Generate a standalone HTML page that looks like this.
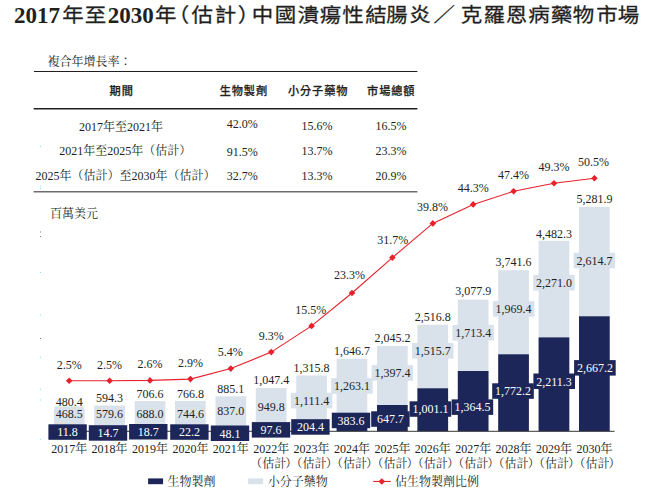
<!DOCTYPE html>
<html lang="zh-Hant">
<head>
<meta charset="utf-8">
<title>2017年至2030年（估計）中國潰瘍性結腸炎／克羅恩病藥物市場</title>
<style>
html,body{margin:0;padding:0;background:#fff;}
body{width:645px;height:495px;overflow:hidden;}
svg{display:block;}
text{white-space:pre;}
</style>
</head>
<body>
<svg width="645" height="495" viewBox="0 0 645 495">
<rect width="645" height="495" fill="#ffffff"/>
<text x="14.0" y="23.3" font-family="'Liberation Serif','Noto Serif CJK TC','Noto Serif CJK SC',serif" font-weight="bold" font-size="23" fill="#231f20">2017</text>
<text x="107.7" y="23.3" font-family="'Liberation Serif','Noto Serif CJK TC','Noto Serif CJK SC',serif" font-weight="bold" font-size="23" fill="#231f20">2030</text>
<g transform="translate(0,21.65) scale(1,0.92)" stroke="#231f20" stroke-width="0.3" font-family="'Liberation Sans','Noto Sans CJK TC','Noto Sans CJK SC',sans-serif" font-weight="400" font-size="21.5" fill="#231f20">
<text x="73.0 95.5" y="0" text-anchor="middle">年至</text>
<text x="165.7 178.5 202.2 225.5 248.5 262.5 285.4 308.2 330.5 352.9 375.9 396.9 420.0 444.2 471.5 494.2 516.6 539.0 561.5 583.6 607.0 628.4" y="0" text-anchor="middle">年（估計）中國潰瘍性結腸炎／克羅恩病藥物市場</text>
</g>
<text x="47.6" y="65.6" font-family="'Liberation Serif','Noto Serif CJK TC','Noto Serif CJK SC',serif" font-size="12" fill="#231f20">複合年增長率：</text>
<rect x="33.9" y="71" width="383.5" height="1" fill="#231f20"/>
<rect x="33.7" y="108" width="383.7" height="1.5" fill="#231f20"/>
<rect x="33.6" y="191.2" width="383.8" height="1.2" fill="#4a4a4a"/>
<text x="109.6" y="95.3" font-family="'Liberation Sans','Noto Sans CJK TC','Noto Sans CJK SC',sans-serif" font-weight="500" stroke="#231f20" stroke-width="0.25" font-size="11.2" letter-spacing="0.9" fill="#231f20">期間</text>
<text x="219.7" y="95.3" font-family="'Liberation Sans','Noto Sans CJK TC','Noto Sans CJK SC',sans-serif" font-weight="500" stroke="#231f20" stroke-width="0.25" font-size="11.2" letter-spacing="0.9" fill="#231f20">生物製劑</text>
<text x="287.9" y="95.3" font-family="'Liberation Sans','Noto Sans CJK TC','Noto Sans CJK SC',sans-serif" font-weight="500" stroke="#231f20" stroke-width="0.25" font-size="11.2" letter-spacing="0.9" fill="#231f20">小分子藥物</text>
<text x="367.1" y="95.3" font-family="'Liberation Sans','Noto Sans CJK TC','Noto Sans CJK SC',sans-serif" font-weight="500" stroke="#231f20" stroke-width="0.25" font-size="11.2" letter-spacing="0.9" fill="#231f20">市場總額</text>
<text x="79.0" y="131.1" text-anchor="start" font-family="'Liberation Serif','Noto Serif CJK TC','Noto Serif CJK SC',serif" font-size="12" fill="#231f20">2017年至2021年</text>
<text x="59.2" y="155.4" text-anchor="start" font-family="'Liberation Serif','Noto Serif CJK TC','Noto Serif CJK SC',serif" font-size="12" fill="#231f20">2021年至2025年（估計）</text>
<text x="35.4" y="180.2" text-anchor="start" font-family="'Liberation Serif','Noto Serif CJK TC','Noto Serif CJK SC',serif" font-size="12" fill="#231f20">2025年（估計）至2030年（估計）</text>
<text x="226.8" y="127.9" text-anchor="start" font-family="'Liberation Serif','Noto Serif CJK TC','Noto Serif CJK SC',serif" font-size="12" fill="#231f20">42.0%</text>
<text x="301.6" y="129.9" text-anchor="start" font-family="'Liberation Serif','Noto Serif CJK TC','Noto Serif CJK SC',serif" font-size="12" fill="#231f20">15.6%</text>
<text x="375.5" y="129.9" text-anchor="start" font-family="'Liberation Serif','Noto Serif CJK TC','Noto Serif CJK SC',serif" font-size="12" fill="#231f20">16.5%</text>
<text x="226.8" y="156.0" text-anchor="start" font-family="'Liberation Serif','Noto Serif CJK TC','Noto Serif CJK SC',serif" font-size="12" fill="#231f20">91.5%</text>
<text x="301.6" y="154.7" text-anchor="start" font-family="'Liberation Serif','Noto Serif CJK TC','Noto Serif CJK SC',serif" font-size="12" fill="#231f20">13.7%</text>
<text x="375.5" y="154.7" text-anchor="start" font-family="'Liberation Serif','Noto Serif CJK TC','Noto Serif CJK SC',serif" font-size="12" fill="#231f20">23.3%</text>
<text x="226.8" y="179.6" text-anchor="start" font-family="'Liberation Serif','Noto Serif CJK TC','Noto Serif CJK SC',serif" font-size="12" fill="#231f20">32.7%</text>
<text x="301.6" y="179.5" text-anchor="start" font-family="'Liberation Serif','Noto Serif CJK TC','Noto Serif CJK SC',serif" font-size="12" fill="#231f20">13.3%</text>
<text x="375.5" y="179.6" text-anchor="start" font-family="'Liberation Serif','Noto Serif CJK TC','Noto Serif CJK SC',serif" font-size="12" fill="#231f20">20.9%</text>
<text x="50.0" y="218.0" text-anchor="start" font-family="'Liberation Serif','Noto Serif CJK TC','Noto Serif CJK SC',serif" font-size="12" fill="#231f20">百萬美元</text>
<rect x="53.9" y="409.0" width="30.7" height="22.3" fill="#d9e1eb"/>
<rect x="53.9" y="430.8" width="30.7" height="0.5" fill="#1d2659"/>
<rect x="94.2" y="405.6" width="30.7" height="25.7" fill="#d9e1eb"/>
<rect x="94.2" y="430.7" width="30.7" height="0.6" fill="#1d2659"/>
<rect x="134.7" y="401.1" width="30.7" height="30.2" fill="#d9e1eb"/>
<rect x="134.7" y="430.5" width="30.7" height="0.8" fill="#1d2659"/>
<rect x="175.0" y="400.9" width="30.7" height="30.4" fill="#d9e1eb"/>
<rect x="175.0" y="430.4" width="30.7" height="0.9" fill="#1d2659"/>
<rect x="215.5" y="396.3" width="30.7" height="35.0" fill="#d9e1eb"/>
<rect x="215.5" y="429.3" width="30.7" height="2.0" fill="#1d2659"/>
<rect x="255.8" y="388.0" width="30.7" height="43.3" fill="#d9e1eb"/>
<rect x="255.8" y="427.2" width="30.7" height="4.1" fill="#1d2659"/>
<rect x="296.2" y="375.5" width="30.7" height="55.8" fill="#d9e1eb"/>
<rect x="296.2" y="422.6" width="30.7" height="8.7" fill="#1d2659"/>
<rect x="336.6" y="358.7" width="30.7" height="72.6" fill="#d9e1eb"/>
<rect x="336.6" y="415.0" width="30.7" height="16.3" fill="#1d2659"/>
<rect x="377.0" y="345.9" width="30.7" height="85.4" fill="#d9e1eb"/>
<rect x="377.0" y="405.0" width="30.7" height="26.3" fill="#1d2659"/>
<rect x="417.4" y="324.7" width="30.7" height="106.6" fill="#d9e1eb"/>
<rect x="417.4" y="388.3" width="30.7" height="43.0" fill="#1d2659"/>
<rect x="457.8" y="299.6" width="30.7" height="131.7" fill="#d9e1eb"/>
<rect x="457.8" y="371.0" width="30.7" height="60.3" fill="#1d2659"/>
<rect x="498.2" y="270.2" width="30.7" height="161.1" fill="#d9e1eb"/>
<rect x="498.2" y="354.3" width="30.7" height="77.0" fill="#1d2659"/>
<rect x="538.6" y="240.8" width="30.7" height="190.5" fill="#d9e1eb"/>
<rect x="538.6" y="337.4" width="30.7" height="93.9" fill="#1d2659"/>
<rect x="579.0" y="207.0" width="30.7" height="224.3" fill="#d9e1eb"/>
<rect x="579.0" y="316.3" width="30.7" height="115.0" fill="#1d2659"/>
<rect x="49" y="430.8" width="565.6" height="1" fill="#3a3a3a"/>
<rect x="54.7" y="406.4" width="29" height="15.6" fill="#d9e1eb"/>
<rect x="95.1" y="405.9" width="29" height="15.6" fill="#d9e1eb"/>
<rect x="135.5" y="405.7" width="29" height="15.6" fill="#d9e1eb"/>
<rect x="175.9" y="405.9" width="29" height="15.6" fill="#d9e1eb"/>
<rect x="216.3" y="402.8" width="29" height="15.6" fill="#d9e1eb"/>
<rect x="256.7" y="399.1" width="29" height="15.6" fill="#d9e1eb"/>
<rect x="290.8" y="392.8" width="41.5" height="15.6" fill="#d9e1eb"/>
<rect x="331.2" y="378.1" width="41.5" height="15.6" fill="#d9e1eb"/>
<rect x="371.6" y="365.1" width="41.5" height="15.6" fill="#d9e1eb"/>
<rect x="412.0" y="343.0" width="41.5" height="15.6" fill="#d9e1eb"/>
<rect x="452.4" y="324.9" width="41.5" height="15.6" fill="#d9e1eb"/>
<rect x="492.9" y="301.1" width="41.5" height="15.6" fill="#d9e1eb"/>
<rect x="533.2" y="274.9" width="41.5" height="15.6" fill="#d9e1eb"/>
<rect x="573.6" y="252.7" width="41.5" height="15.6" fill="#d9e1eb"/>
<rect x="48.4" y="424.3" width="38.4" height="15.5" fill="#1d2659"/>
<rect x="88.8" y="425.2" width="38.4" height="15.5" fill="#1d2659"/>
<rect x="129.1" y="424.0" width="38.4" height="15.5" fill="#1d2659"/>
<rect x="170.2" y="424.3" width="38.4" height="15.5" fill="#1d2659"/>
<rect x="210.8" y="425.5" width="38.4" height="15.5" fill="#1d2659"/>
<rect x="251.8" y="422.1" width="38.4" height="15.5" fill="#1d2659"/>
<rect x="291.2" y="419.2" width="38.4" height="15.5" fill="#1d2659"/>
<rect x="331.8" y="412.7" width="38.4" height="15.5" fill="#1d2659"/>
<rect x="371.2" y="411.3" width="38.4" height="15.5" fill="#1d2659"/>
<rect x="409.6" y="401.3" width="41.6" height="15.5" fill="#1d2659"/>
<rect x="451.6" y="399.4" width="41.6" height="15.5" fill="#1d2659"/>
<rect x="492.2" y="383.3" width="41.6" height="15.5" fill="#1d2659"/>
<rect x="533.4" y="373.5" width="41.6" height="15.5" fill="#1d2659"/>
<rect x="574.1" y="360.1" width="41.6" height="15.5" fill="#1d2659"/>
<text x="69.2" y="418.3" text-anchor="middle" font-family="'Liberation Serif','Noto Serif CJK TC','Noto Serif CJK SC',serif" font-size="12" fill="#231f20">468.5</text>
<text x="69.2" y="405.7" text-anchor="middle" font-family="'Liberation Serif','Noto Serif CJK TC','Noto Serif CJK SC',serif" font-size="12" fill="#231f20">480.4</text>
<text x="67.6" y="436.3" text-anchor="middle" font-family="'Liberation Serif','Noto Serif CJK TC','Noto Serif CJK SC',serif" font-size="12" fill="#ffffff">11.8</text>
<text x="109.6" y="417.8" text-anchor="middle" font-family="'Liberation Serif','Noto Serif CJK TC','Noto Serif CJK SC',serif" font-size="12" fill="#231f20">579.6</text>
<text x="109.6" y="402.0" text-anchor="middle" font-family="'Liberation Serif','Noto Serif CJK TC','Noto Serif CJK SC',serif" font-size="12" fill="#231f20">594.3</text>
<text x="108.0" y="437.2" text-anchor="middle" font-family="'Liberation Serif','Noto Serif CJK TC','Noto Serif CJK SC',serif" font-size="12" fill="#ffffff">14.7</text>
<text x="150.0" y="417.6" text-anchor="middle" font-family="'Liberation Serif','Noto Serif CJK TC','Noto Serif CJK SC',serif" font-size="12" fill="#231f20">688.0</text>
<text x="150.0" y="397.7" text-anchor="middle" font-family="'Liberation Serif','Noto Serif CJK TC','Noto Serif CJK SC',serif" font-size="12" fill="#231f20">706.6</text>
<text x="148.3" y="436.0" text-anchor="middle" font-family="'Liberation Serif','Noto Serif CJK TC','Noto Serif CJK SC',serif" font-size="12" fill="#ffffff">18.7</text>
<text x="190.4" y="417.8" text-anchor="middle" font-family="'Liberation Serif','Noto Serif CJK TC','Noto Serif CJK SC',serif" font-size="12" fill="#231f20">744.6</text>
<text x="190.4" y="397.5" text-anchor="middle" font-family="'Liberation Serif','Noto Serif CJK TC','Noto Serif CJK SC',serif" font-size="12" fill="#231f20">766.8</text>
<text x="189.4" y="436.3" text-anchor="middle" font-family="'Liberation Serif','Noto Serif CJK TC','Noto Serif CJK SC',serif" font-size="12" fill="#ffffff">22.2</text>
<text x="230.8" y="414.7" text-anchor="middle" font-family="'Liberation Serif','Noto Serif CJK TC','Noto Serif CJK SC',serif" font-size="12" fill="#231f20">837.0</text>
<text x="230.8" y="393.0" text-anchor="middle" font-family="'Liberation Serif','Noto Serif CJK TC','Noto Serif CJK SC',serif" font-size="12" fill="#231f20">885.1</text>
<text x="230.0" y="437.5" text-anchor="middle" font-family="'Liberation Serif','Noto Serif CJK TC','Noto Serif CJK SC',serif" font-size="12" fill="#ffffff">48.1</text>
<text x="271.2" y="411.0" text-anchor="middle" font-family="'Liberation Serif','Noto Serif CJK TC','Noto Serif CJK SC',serif" font-size="12" fill="#231f20">949.8</text>
<text x="271.2" y="383.6" text-anchor="middle" font-family="'Liberation Serif','Noto Serif CJK TC','Noto Serif CJK SC',serif" font-size="12" fill="#231f20">1,047.4</text>
<text x="270.9" y="434.1" text-anchor="middle" font-family="'Liberation Serif','Noto Serif CJK TC','Noto Serif CJK SC',serif" font-size="12" fill="#ffffff">97.6</text>
<text x="311.6" y="404.7" text-anchor="middle" font-family="'Liberation Serif','Noto Serif CJK TC','Noto Serif CJK SC',serif" font-size="12" fill="#231f20">1,111.4</text>
<text x="311.6" y="371.8" text-anchor="middle" font-family="'Liberation Serif','Noto Serif CJK TC','Noto Serif CJK SC',serif" font-size="12" fill="#231f20">1,315.8</text>
<text x="310.4" y="431.2" text-anchor="middle" font-family="'Liberation Serif','Noto Serif CJK TC','Noto Serif CJK SC',serif" font-size="12" fill="#ffffff">204.4</text>
<text x="352.0" y="390.0" text-anchor="middle" font-family="'Liberation Serif','Noto Serif CJK TC','Noto Serif CJK SC',serif" font-size="12" fill="#231f20">1,263.1</text>
<text x="352.0" y="355.2" text-anchor="middle" font-family="'Liberation Serif','Noto Serif CJK TC','Noto Serif CJK SC',serif" font-size="12" fill="#231f20">1,646.7</text>
<text x="350.9" y="424.7" text-anchor="middle" font-family="'Liberation Serif','Noto Serif CJK TC','Noto Serif CJK SC',serif" font-size="12" fill="#ffffff">383.6</text>
<text x="392.4" y="377.0" text-anchor="middle" font-family="'Liberation Serif','Noto Serif CJK TC','Noto Serif CJK SC',serif" font-size="12" fill="#231f20">1,397.4</text>
<text x="392.4" y="342.0" text-anchor="middle" font-family="'Liberation Serif','Noto Serif CJK TC','Noto Serif CJK SC',serif" font-size="12" fill="#231f20">2,045.2</text>
<text x="390.4" y="423.3" text-anchor="middle" font-family="'Liberation Serif','Noto Serif CJK TC','Noto Serif CJK SC',serif" font-size="12" fill="#ffffff">647.7</text>
<text x="432.8" y="354.9" text-anchor="middle" font-family="'Liberation Serif','Noto Serif CJK TC','Noto Serif CJK SC',serif" font-size="12" fill="#231f20">1,515.7</text>
<text x="432.8" y="320.5" text-anchor="middle" font-family="'Liberation Serif','Noto Serif CJK TC','Noto Serif CJK SC',serif" font-size="12" fill="#231f20">2,516.8</text>
<text x="430.4" y="413.3" text-anchor="middle" font-family="'Liberation Serif','Noto Serif CJK TC','Noto Serif CJK SC',serif" font-size="12" fill="#ffffff">1,001.1</text>
<text x="473.2" y="336.8" text-anchor="middle" font-family="'Liberation Serif','Noto Serif CJK TC','Noto Serif CJK SC',serif" font-size="12" fill="#231f20">1,713.4</text>
<text x="473.2" y="294.8" text-anchor="middle" font-family="'Liberation Serif','Noto Serif CJK TC','Noto Serif CJK SC',serif" font-size="12" fill="#231f20">3,077.9</text>
<text x="472.4" y="411.4" text-anchor="middle" font-family="'Liberation Serif','Noto Serif CJK TC','Noto Serif CJK SC',serif" font-size="12" fill="#ffffff">1,364.5</text>
<text x="513.6" y="313.0" text-anchor="middle" font-family="'Liberation Serif','Noto Serif CJK TC','Noto Serif CJK SC',serif" font-size="12" fill="#231f20">1,969.4</text>
<text x="513.6" y="265.8" text-anchor="middle" font-family="'Liberation Serif','Noto Serif CJK TC','Noto Serif CJK SC',serif" font-size="12" fill="#231f20">3,741.6</text>
<text x="513.0" y="395.3" text-anchor="middle" font-family="'Liberation Serif','Noto Serif CJK TC','Noto Serif CJK SC',serif" font-size="12" fill="#ffffff">1,772.2</text>
<text x="554.0" y="286.8" text-anchor="middle" font-family="'Liberation Serif','Noto Serif CJK TC','Noto Serif CJK SC',serif" font-size="12" fill="#231f20">2,271.0</text>
<text x="554.0" y="237.7" text-anchor="middle" font-family="'Liberation Serif','Noto Serif CJK TC','Noto Serif CJK SC',serif" font-size="12" fill="#231f20">4,482.3</text>
<text x="554.1" y="385.5" text-anchor="middle" font-family="'Liberation Serif','Noto Serif CJK TC','Noto Serif CJK SC',serif" font-size="12" fill="#ffffff">2,211.3</text>
<text x="594.4" y="264.6" text-anchor="middle" font-family="'Liberation Serif','Noto Serif CJK TC','Noto Serif CJK SC',serif" font-size="12" fill="#231f20">2,614.7</text>
<text x="594.4" y="203.1" text-anchor="middle" font-family="'Liberation Serif','Noto Serif CJK TC','Noto Serif CJK SC',serif" font-size="12" fill="#231f20">5,281.9</text>
<text x="594.9" y="372.1" text-anchor="middle" font-family="'Liberation Serif','Noto Serif CJK TC','Noto Serif CJK SC',serif" font-size="12" fill="#ffffff">2,667.2</text>
<polyline points="69.2,380.8 109.6,380.8 150.0,380.4 190.4,379.1 230.8,368.6 271.2,352.1 311.6,325.9 352.0,293.0 392.4,257.6 432.8,223.4 473.2,204.4 513.6,191.3 554.0,183.3 594.4,178.2" fill="none" stroke="#e8212b" stroke-width="1.1"/>
<path d="M65.9 380.8L69.2 377.5L72.5 380.8L69.2 384.1Z" fill="#e8212b"/>
<path d="M106.3 380.8L109.6 377.5L112.9 380.8L109.6 384.1Z" fill="#e8212b"/>
<path d="M146.7 380.4L150.0 377.1L153.3 380.4L150.0 383.7Z" fill="#e8212b"/>
<path d="M187.1 379.1L190.4 375.8L193.7 379.1L190.4 382.4Z" fill="#e8212b"/>
<path d="M227.5 368.6L230.8 365.3L234.1 368.6L230.8 371.9Z" fill="#e8212b"/>
<path d="M267.9 352.1L271.2 348.8L274.5 352.1L271.2 355.4Z" fill="#e8212b"/>
<path d="M308.3 325.9L311.6 322.6L314.9 325.9L311.6 329.2Z" fill="#e8212b"/>
<path d="M348.7 293.0L352.0 289.7L355.3 293.0L352.0 296.3Z" fill="#e8212b"/>
<path d="M389.1 257.6L392.4 254.3L395.7 257.6L392.4 260.9Z" fill="#e8212b"/>
<path d="M429.5 223.4L432.8 220.1L436.1 223.4L432.8 226.7Z" fill="#e8212b"/>
<path d="M469.9 204.4L473.2 201.1L476.5 204.4L473.2 207.7Z" fill="#e8212b"/>
<path d="M510.3 191.3L513.6 188.0L516.9 191.3L513.6 194.6Z" fill="#e8212b"/>
<path d="M550.7 183.3L554.0 180.0L557.3 183.3L554.0 186.6Z" fill="#e8212b"/>
<path d="M591.1 178.2L594.4 174.9L597.7 178.2L594.4 181.5Z" fill="#e8212b"/>
<text x="69.2" y="368.6" text-anchor="middle" font-family="'Liberation Serif','Noto Serif CJK TC','Noto Serif CJK SC',serif" font-size="12" fill="#231f20">2.5%</text>
<text x="109.6" y="368.6" text-anchor="middle" font-family="'Liberation Serif','Noto Serif CJK TC','Noto Serif CJK SC',serif" font-size="12" fill="#231f20">2.5%</text>
<text x="150.0" y="367.8" text-anchor="middle" font-family="'Liberation Serif','Noto Serif CJK TC','Noto Serif CJK SC',serif" font-size="12" fill="#231f20">2.6%</text>
<text x="190.4" y="366.9" text-anchor="middle" font-family="'Liberation Serif','Noto Serif CJK TC','Noto Serif CJK SC',serif" font-size="12" fill="#231f20">2.9%</text>
<text x="230.2" y="356.1" text-anchor="middle" font-family="'Liberation Serif','Noto Serif CJK TC','Noto Serif CJK SC',serif" font-size="12" fill="#231f20">5.4%</text>
<text x="271.2" y="340.1" text-anchor="middle" font-family="'Liberation Serif','Noto Serif CJK TC','Noto Serif CJK SC',serif" font-size="12" fill="#231f20">9.3%</text>
<text x="310.8" y="314.1" text-anchor="middle" font-family="'Liberation Serif','Noto Serif CJK TC','Noto Serif CJK SC',serif" font-size="12" fill="#231f20">15.5%</text>
<text x="349.4" y="279.0" text-anchor="middle" font-family="'Liberation Serif','Noto Serif CJK TC','Noto Serif CJK SC',serif" font-size="12" fill="#231f20">23.3%</text>
<text x="392.8" y="243.6" text-anchor="middle" font-family="'Liberation Serif','Noto Serif CJK TC','Noto Serif CJK SC',serif" font-size="12" fill="#231f20">31.7%</text>
<text x="432.5" y="211.4" text-anchor="middle" font-family="'Liberation Serif','Noto Serif CJK TC','Noto Serif CJK SC',serif" font-size="12" fill="#231f20">39.8%</text>
<text x="473.2" y="192.4" text-anchor="middle" font-family="'Liberation Serif','Noto Serif CJK TC','Noto Serif CJK SC',serif" font-size="12" fill="#231f20">44.3%</text>
<text x="513.6" y="179.3" text-anchor="middle" font-family="'Liberation Serif','Noto Serif CJK TC','Noto Serif CJK SC',serif" font-size="12" fill="#231f20">47.4%</text>
<text x="554.0" y="171.3" text-anchor="middle" font-family="'Liberation Serif','Noto Serif CJK TC','Noto Serif CJK SC',serif" font-size="12" fill="#231f20">49.3%</text>
<text x="593.6" y="166.2" text-anchor="middle" font-family="'Liberation Serif','Noto Serif CJK TC','Noto Serif CJK SC',serif" font-size="12" fill="#231f20">50.5%</text>
<text x="69.2" y="453.3" text-anchor="middle" font-family="'Liberation Serif','Noto Serif CJK TC','Noto Serif CJK SC',serif" font-size="12" fill="#231f20">2017年</text>
<text x="109.6" y="453.3" text-anchor="middle" font-family="'Liberation Serif','Noto Serif CJK TC','Noto Serif CJK SC',serif" font-size="12" fill="#231f20">2018年</text>
<text x="150.0" y="453.3" text-anchor="middle" font-family="'Liberation Serif','Noto Serif CJK TC','Noto Serif CJK SC',serif" font-size="12" fill="#231f20">2019年</text>
<text x="190.4" y="453.3" text-anchor="middle" font-family="'Liberation Serif','Noto Serif CJK TC','Noto Serif CJK SC',serif" font-size="12" fill="#231f20">2020年</text>
<text x="230.8" y="453.3" text-anchor="middle" font-family="'Liberation Serif','Noto Serif CJK TC','Noto Serif CJK SC',serif" font-size="12" fill="#231f20">2021年</text>
<text x="271.2" y="453.3" text-anchor="middle" font-family="'Liberation Serif','Noto Serif CJK TC','Noto Serif CJK SC',serif" font-size="12" fill="#231f20">2022年</text>
<text x="250.2 262.2 274.2 285.3" y="467.6" text-anchor="start" font-family="'Liberation Serif','Noto Serif CJK TC','Noto Serif CJK SC',serif" font-size="12" fill="#231f20">（估計）</text>
<text x="311.6" y="453.3" text-anchor="middle" font-family="'Liberation Serif','Noto Serif CJK TC','Noto Serif CJK SC',serif" font-size="12" fill="#231f20">2023年</text>
<text x="290.6 302.6 314.6 325.7" y="467.6" text-anchor="start" font-family="'Liberation Serif','Noto Serif CJK TC','Noto Serif CJK SC',serif" font-size="12" fill="#231f20">（估計）</text>
<text x="352.0" y="453.3" text-anchor="middle" font-family="'Liberation Serif','Noto Serif CJK TC','Noto Serif CJK SC',serif" font-size="12" fill="#231f20">2024年</text>
<text x="331.0 343.0 355.0 366.1" y="467.6" text-anchor="start" font-family="'Liberation Serif','Noto Serif CJK TC','Noto Serif CJK SC',serif" font-size="12" fill="#231f20">（估計）</text>
<text x="392.4" y="453.3" text-anchor="middle" font-family="'Liberation Serif','Noto Serif CJK TC','Noto Serif CJK SC',serif" font-size="12" fill="#231f20">2025年</text>
<text x="371.4 383.4 395.4 406.5" y="467.6" text-anchor="start" font-family="'Liberation Serif','Noto Serif CJK TC','Noto Serif CJK SC',serif" font-size="12" fill="#231f20">（估計）</text>
<text x="432.8" y="453.3" text-anchor="middle" font-family="'Liberation Serif','Noto Serif CJK TC','Noto Serif CJK SC',serif" font-size="12" fill="#231f20">2026年</text>
<text x="411.8 423.8 435.8 446.9" y="467.6" text-anchor="start" font-family="'Liberation Serif','Noto Serif CJK TC','Noto Serif CJK SC',serif" font-size="12" fill="#231f20">（估計）</text>
<text x="473.2" y="453.3" text-anchor="middle" font-family="'Liberation Serif','Noto Serif CJK TC','Noto Serif CJK SC',serif" font-size="12" fill="#231f20">2027年</text>
<text x="452.2 464.2 476.2 487.3" y="467.6" text-anchor="start" font-family="'Liberation Serif','Noto Serif CJK TC','Noto Serif CJK SC',serif" font-size="12" fill="#231f20">（估計）</text>
<text x="513.6" y="453.3" text-anchor="middle" font-family="'Liberation Serif','Noto Serif CJK TC','Noto Serif CJK SC',serif" font-size="12" fill="#231f20">2028年</text>
<text x="492.6 504.6 516.6 527.7" y="467.6" text-anchor="start" font-family="'Liberation Serif','Noto Serif CJK TC','Noto Serif CJK SC',serif" font-size="12" fill="#231f20">（估計）</text>
<text x="554.0" y="453.3" text-anchor="middle" font-family="'Liberation Serif','Noto Serif CJK TC','Noto Serif CJK SC',serif" font-size="12" fill="#231f20">2029年</text>
<text x="533.0 545.0 557.0 568.1" y="467.6" text-anchor="start" font-family="'Liberation Serif','Noto Serif CJK TC','Noto Serif CJK SC',serif" font-size="12" fill="#231f20">（估計）</text>
<text x="594.4" y="453.3" text-anchor="middle" font-family="'Liberation Serif','Noto Serif CJK TC','Noto Serif CJK SC',serif" font-size="12" fill="#231f20">2030年</text>
<text x="573.4 585.4 597.4 608.5" y="467.6" text-anchor="start" font-family="'Liberation Serif','Noto Serif CJK TC','Noto Serif CJK SC',serif" font-size="12" fill="#231f20">（估計）</text>
<rect x="148.1" y="478.4" width="15" height="5.8" fill="#1d2659"/>
<text x="167.6" y="485.6" text-anchor="start" font-family="'Liberation Serif','Noto Serif CJK TC','Noto Serif CJK SC',serif" font-size="12" fill="#231f20">生物製劑</text>
<rect x="248.1" y="478.4" width="15" height="5.8" fill="#d9e1eb"/>
<text x="267.8" y="485.6" text-anchor="start" font-family="'Liberation Serif','Noto Serif CJK TC','Noto Serif CJK SC',serif" font-size="12" fill="#231f20">小分子藥物</text>
<rect x="373.2" y="480.9" width="17.5" height="1.1" fill="#e8212b"/>
<path d="M378.5 481.5L381.8 478.2L385.1 481.5L381.8 484.8Z" fill="#e8212b"/>
<text x="395.0" y="485.6" text-anchor="start" font-family="'Liberation Serif','Noto Serif CJK TC','Noto Serif CJK SC',serif" font-size="12" fill="#231f20">佔生物製劑比例</text>
<rect x="40.0" y="231.6" width="0.8" height="0.8" fill="#1d2659"/>
<rect x="40.0" y="236.3" width="0.8" height="0.8" fill="#1d2659"/>
<rect x="40.0" y="272.2" width="0.8" height="0.8" fill="#2fd6e6"/>
<rect x="40.0" y="314.6" width="0.8" height="0.8" fill="#2fd6e6"/>
<rect x="40.0" y="338.0" width="0.8" height="0.8" fill="#1d2659"/>
<rect x="40.0" y="356.8" width="0.8" height="0.8" fill="#2fd6e6"/>
<rect x="40.0" y="388.8" width="0.8" height="0.8" fill="#2fd6e6"/>
<rect x="40.0" y="399.6" width="0.8" height="0.8" fill="#2fd6e6"/>
<rect x="40.0" y="438.8" width="0.8" height="0.8" fill="#2fd6e6"/>
<rect x="40.0" y="146.2" width="0.8" height="0.8" fill="#2fd6e6"/>
<rect x="40.0" y="185.7" width="0.8" height="0.8" fill="#2fd6e6"/>
<rect x="40.0" y="188.2" width="0.8" height="0.8" fill="#2fd6e6"/>
</svg>
</body>
</html>
